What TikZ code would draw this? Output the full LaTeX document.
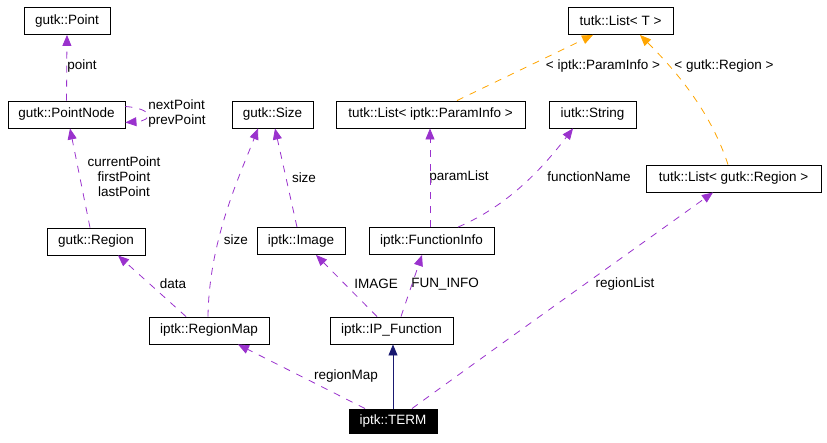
\documentclass[tikz,border=0pt]{standalone}
\usepackage{fontspec}
\setmainfont{Liberation Sans}
\usetikzlibrary{arrows.meta}
\definecolor{usecol}{HTML}{9A32CD}
\definecolor{tplcol}{HTML}{FFA500}
\definecolor{inhcol}{HTML}{191970}
\tikzstyle{cls} = [rectangle, draw=black, line width=0.9pt, minimum height=27pt, inner sep=0pt, text centered, font=\fontsize{13.5}{15}\selectfont]
\tikzstyle{cur} = [cls, fill=black, text=white, draw=black]
\tikzstyle{lbl} = [inner sep=0pt, align=center, font=\fontsize{13.5}{15}\selectfont]
\tikzstyle{member} = [usecol, line width=0.8pt, dash pattern=on 7pt off 7pt, -{Triangle[length=11pt,width=9pt]}]
\tikzstyle{tmpl} = [tplcol, line width=0.8pt, dash pattern=on 7pt off 7pt, -{Triangle[length=11pt,width=9pt]}]
\tikzstyle{inherit} = [inhcol, line width=0.9pt, -{Triangle[length=11pt,width=9pt]}]

\begin{document}
\begin{tikzpicture}[x=1pt, y=-1pt]
\useasboundingbox (0,0) rectangle (827,442);
\node (point) [cls, minimum width=86pt] at (67,21) {gutk::Point};
\node (pnode) [cls, minimum width=117pt] at (66.5,114.5) {gutk::PointNode};
\node (size) [cls, minimum width=81pt] at (272.5,114.5) {gutk::Size};
\node (plist) [cls, minimum width=189pt] at (430.5,114.5) {tutk::List< iptk::ParamInfo >};
\node (string) [cls, minimum width=87pt] at (592.5,114.5) {iutk::String};
\node (listt) [cls, minimum width=105pt] at (620.5,21) {tutk::List< T >};
\node (rlist) [cls, minimum width=175pt] at (733.5,178.5) {tutk::List< gutk::Region >};
\node (region) [cls, minimum width=98pt] at (96,241.5) {gutk::Region};
\node (image) [cls, minimum width=88pt] at (301,241) {iptk::Image};
\node (finfo) [cls, minimum width=125pt] at (431.5,241) {iptk::FunctionInfo};
\node (rmap) [cls, minimum width=120pt] at (209,330.5) {iptk::RegionMap};
\node (ipfun) [cls, minimum width=123pt] at (391.5,330.5) {iptk::IP\_Function};
\node (term) [cur, minimum width=88pt, minimum height=24pt] at (393,421) {iptk::TERM};

\node (lpoint) [lbl] at (82,66) {point};
\node (lnext) [lbl, align=left] at (177,114) {nextPoint\\prevPoint};
\node (lcur) [lbl] at (124,177) {currentPoint\\firstPoint\\lastPoint};
\node (lsize1) [lbl] at (236,240) {size};
\node (lsize2) [lbl] at (304,178) {size};
\node (lparam) [lbl] at (459,177) {paramList};
\node (lfname) [lbl] at (589,177) {functionName};
\node (ltp) [lbl] at (603,66) {< iptk::ParamInfo >};
\node (ltr) [lbl] at (724,66) {< gutk::Region >};
\node (ldata) [lbl] at (173,284) {data};
\node (limage) [lbl] at (376,284) {IMAGE};
\node (lfun) [lbl] at (445,284) {FUN\_INFO};
\node (lrmap) [lbl] at (346,376) {regionMap};
\node (lrlist) [lbl] at (625,284) {regionList};

\draw [member] (pnode.north) -- (point.south);
\draw [member] ([yshift=8pt]pnode.east) .. controls +(28pt,-2pt) and +(28pt,2pt) .. ([yshift=-8pt]pnode.east);
\draw [member] ([xshift=-6pt]region.north) -- ([xshift=3.5pt]pnode.south);
\draw [member] ([xshift=-1pt]rmap.north) .. controls (209,240) and (240,175) .. ([xshift=-14.5pt]size.south);
\draw [member] ([xshift=-4pt]image.north) -- ([xshift=2.5pt]size.south);
\draw [member] ([xshift=-23pt]rmap.north) -- ([xshift=22pt]region.south);
\draw [member] ([xshift=-1.5pt]finfo.north) -- ([xshift=-0.5pt]plist.south);
\draw [member] ([xshift=26.5pt]finfo.north) .. controls (510,205) and (545,165) .. ([xshift=-19.5pt]string.south);
\draw [member] ([xshift=-14.5pt]ipfun.north) -- ([xshift=15pt]image.south);
\draw [member] ([xshift=9.5pt]ipfun.north) -- ([xshift=-9.5pt]finfo.south);
\draw [member] ([xshift=-28pt]term.north) -- ([xshift=29pt]rmap.south);
\draw [inherit] (term.north) -- ([xshift=1.5pt]ipfun.south);
\draw [member] ([xshift=19pt]term.north) .. controls (520,330) and (640,245) .. ([xshift=-20.5pt]rlist.south);
\draw [tmpl] ([xshift=26.5pt]plist.north) -- ([xshift=-27.5pt]listt.south);
\draw [tmpl] ([xshift=-5.5pt]rlist.north) .. controls (710,110) and (675,70) .. ([xshift=19.5pt]listt.south);
\end{tikzpicture}
\end{document}
